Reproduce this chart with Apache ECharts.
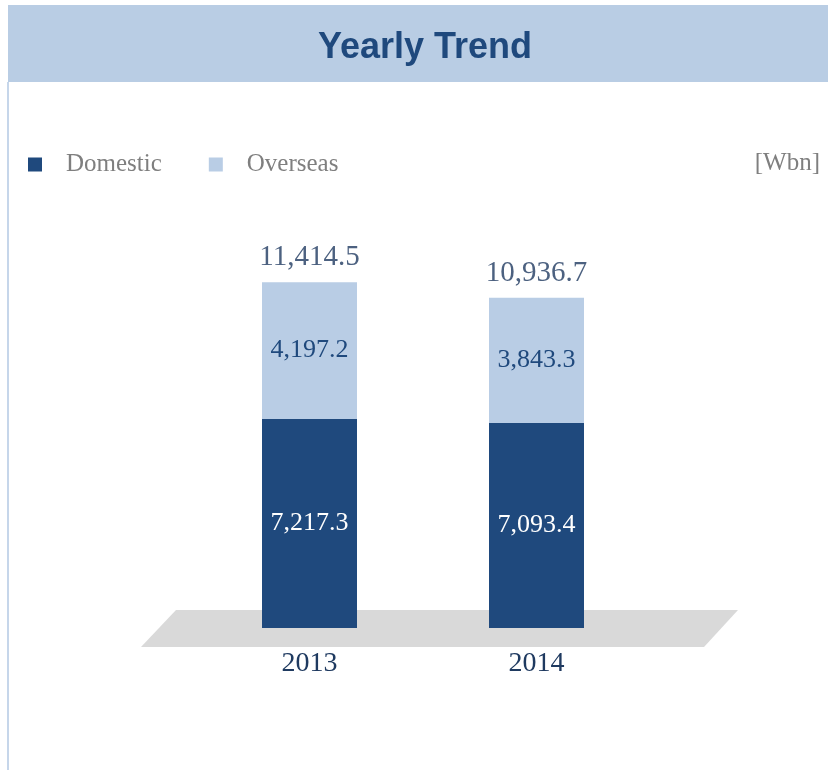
<!DOCTYPE html>
<html>
<head>
<meta charset="utf-8">
<script src="https://cdn.jsdelivr.net/npm/echarts@6/dist/echarts.min.js"></script>
<style>html,body{margin:0;padding:0;background:#fff;}#c{width:828px;height:770px;}</style>
</head>
<body>
<div id="c"></div>
<script>
var categories = ['2013', '2014'];
var domestic = [7217.3, 7093.4];
var overseas = [4197.2, 3843.3];
var seriesNames = ['Domestic', 'Overseas'];
var titleText = 'Yearly Trend';
var unitText = '[Wbn]';

var totals = categories.map(function (c, i) { return +(domestic[i] + overseas[i]).toFixed(1); });
function fmt(v) {
  return Number(v).toLocaleString('en-US', { minimumFractionDigits: 1, maximumFractionDigits: 1 });
}
var numFont = '"Liberation Serif", serif';
var chart = echarts.init(document.getElementById('c'), null, { renderer: 'canvas' });
chart.setOption({
  backgroundColor: '#ffffff',
  animation: false,
  title: {
    text: titleText,
    left: 420, top: 25, textAlign: 'center',
    textStyle: { fontFamily: '"Liberation Sans"', fontWeight: 'bold', fontSize: 36, color: '#1f497d' }
  },
  legend: {
    data: seriesNames,
    left: 28, top: 152, padding: 0,
    icon: 'rect', itemWidth: 14, itemHeight: 14, itemGap: 47,
    textStyle: { fontFamily: 'Liberation Serif', fontSize: 25, color: '#7f7f7f', padding: [0, 0, 0, 19] }
  },
  graphic: [
    { type: 'rect', z: -10, shape: { x: 8, y: 5, width: 820, height: 77 }, style: { fill: '#b9cde4' } },
    { type: 'rect', z: -10, shape: { x: 7, y: 82, width: 2, height: 688 }, style: { fill: '#c6d6ea' } },
    { type: 'polygon', z: -5, shape: { points: [[176, 610], [738, 610], [704, 647], [141, 647]] }, style: { fill: '#d9d9d9' } },
    { type: 'text', right: 8, top: 151, style: { text: unitText, font: '25px "Liberation Serif"', fill: '#7f7f7f' } }
  ],
  grid: { left: 196, width: 454, top: 198, bottom: 142 },
  xAxis: {
    type: 'category', data: categories,
    axisLine: { show: false }, axisTick: { show: false },
    axisLabel: { margin: 22, fontFamily: numFont, fontSize: 28, color: '#1f3a60' }
  },
  yAxis: { type: 'value', min: 800, max: 14000, show: false, splitLine: { show: false } },
  series: [
    {
      name: seriesNames[0], type: 'bar', stack: 'a', barWidth: 95, data: domestic,
      itemStyle: { color: '#1f497d' },
      label: { show: true, position: 'inside', formatter: function (p) { return fmt(p.value); },
        fontFamily: numFont, fontSize: 26, color: '#ffffff' }
    },
    {
      name: seriesNames[1], type: 'bar', stack: 'a', barWidth: 95, data: overseas,
      itemStyle: { color: '#b9cde5' },
      label: { show: true, position: 'inside', formatter: function (p) { return fmt(p.value); },
        fontFamily: numFont, fontSize: 26, color: '#1f497d' }
    },
    {
      name: 'Total', type: 'scatter', data: totals, symbolSize: 0, z: 10,
      label: { show: true, position: 'top', distance: 10, formatter: function (p) { return fmt(p.value); },
        fontFamily: numFont, fontSize: 29, color: '#1f3a60' }
    }
  ]
});
</script>
</body>
</html>
